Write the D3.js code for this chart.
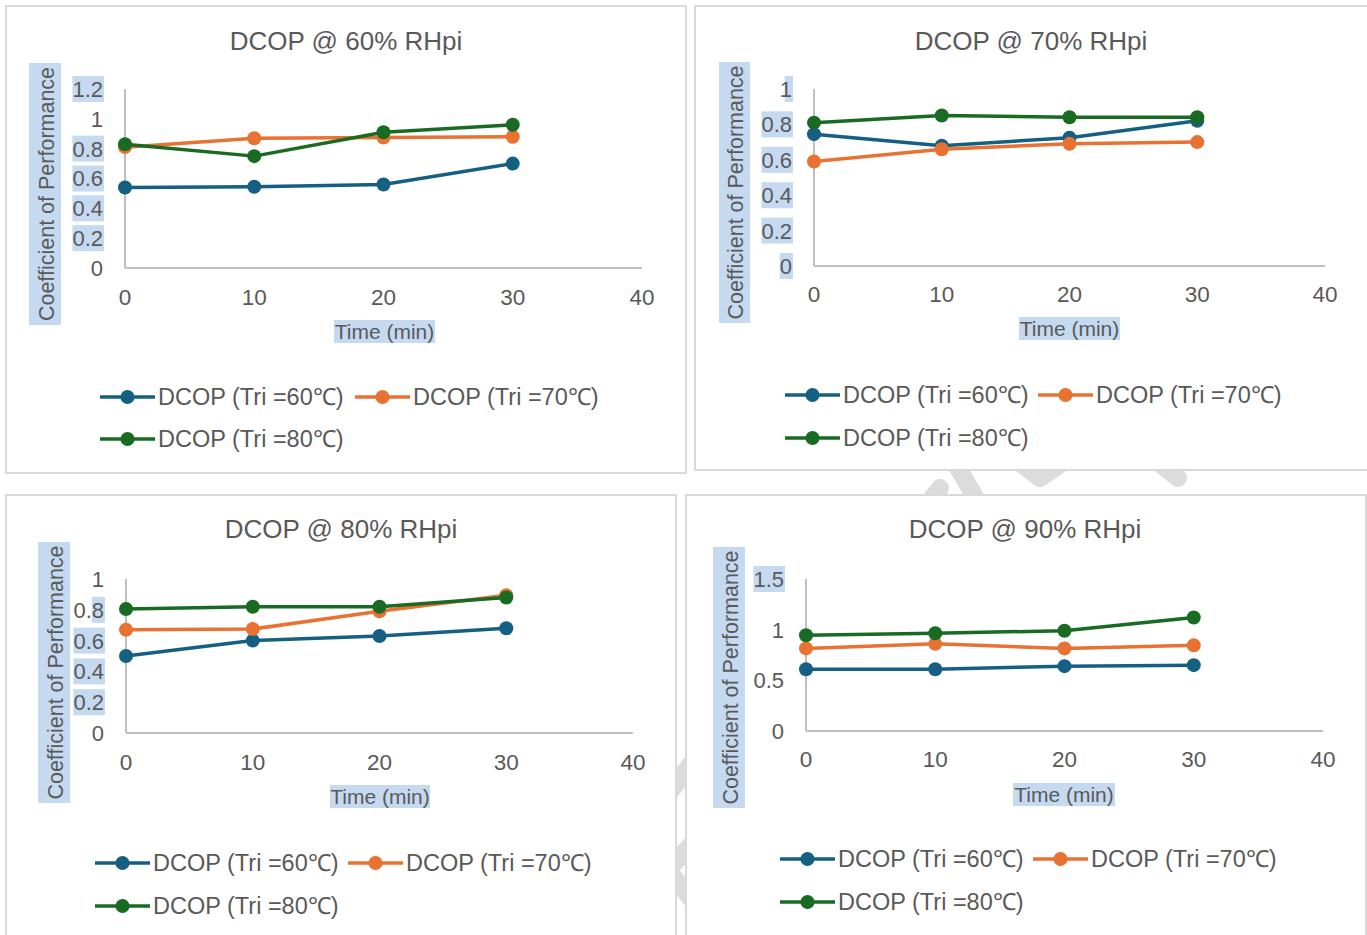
<!DOCTYPE html>
<html>
<head>
<meta charset="utf-8">
<script src="https://cdnjs.cloudflare.com/ajax/libs/d3/7.8.5/d3.min.js"></script>
<style>
  body { margin: 0; background: #fff; }
  text { font-family: 'Liberation Sans', Arial, sans-serif; fill: #595959; }
</style>
</head>
<body>
<script>
// shared axis / legend values
const times = [0, 10, 20, 30];
const xTicks = [0, 10, 20, 30, 40];
const seriesNames = ['DCOP (Tri =60℃)', 'DCOP (Tri =70℃)', 'DCOP (Tri =80℃)'];
const seriesColors = ['#156082', '#e97132', '#196b24'];

// COP
const rh60Tri60 = [0.54, 0.545, 0.56, 0.70];
const rh60Tri70 = [0.81, 0.87, 0.875, 0.88];
const rh60Tri80 = [0.83, 0.75, 0.91, 0.96];

const rh70Tri60 = [0.745, 0.68, 0.725, 0.82];
const rh70Tri70 = [0.59, 0.66, 0.69, 0.70];
const rh70Tri80 = [0.81, 0.85, 0.84, 0.84];

const rh80Tri60 = [0.50, 0.60, 0.63, 0.68];
const rh80Tri70 = [0.67, 0.675, 0.79, 0.895];
const rh80Tri80 = [0.805, 0.82, 0.82, 0.88];

const rh90Tri60 = [0.61, 0.61, 0.64, 0.65];
const rh90Tri70 = [0.815, 0.86, 0.815, 0.845];
const rh90Tri80 = [0.945, 0.965, 0.99, 1.12];

const titles = ['DCOP @ 60% RHpi', 'DCOP @ 70% RHpi', 'DCOP @ 80% RHpi', 'DCOP @ 90% RHpi'];
const yMaxes = [1.2, 1, 1, 1.5];
const ySteps = [0.2, 0.2, 0.2, 0.5];
// which y tick labels carry the blue highlight (value -> share of label width, from the right)
const highlights = [
  [[1.2, 1], [0.8, 1], [0.6, 1], [0.4, 1], [0.2, 1]],
  [[1, 0.6], [0.8, 1], [0.6, 1], [0.4, 1], [0.2, 1], [0, 1]],
  [[0.8, 0.4], [0.6, 1], [0.4, 1], [0.2, 1]],
  [[1.5, 1]]
];

const seriesByPanel = [
  [rh60Tri60, rh60Tri70, rh60Tri80],
  [rh70Tri60, rh70Tri70, rh70Tri80],
  [rh80Tri60, rh80Tri70, rh80Tri80],
  [rh90Tri60, rh90Tri70, rh90Tri80]
];

// layout of the four boxes
const layouts = [
  { box: [6, 6, 680, 467], l: 125, r: 642, t: 89, b: 268, tx: 346, ty: 50, xty: 305, ylx: 103,
    ytBox: [29, 63, 32, 262], xtBox: [334, 320, 101, 23], lx: 100, lx2: 355, ly1: 397, ly2: 439 },
  { box: [695, 6, 680, 464], l: 814, r: 1325, t: 89, b: 266, tx: 1031, ty: 50, xty: 302, ylx: 792,
    ytBox: [719, 62, 31, 261], xtBox: [1019, 317, 101, 23], lx: 785, lx2: 1038, ly1: 395, ly2: 438 },
  { box: [6, 495, 670, 460], l: 126, r: 633, t: 579, b: 733, tx: 341, ty: 538, xty: 770, ylx: 104,
    ytBox: [38, 542, 32, 261], xtBox: [330, 785, 100, 23], lx: 95, lx2: 348, ly1: 863, ly2: 906 },
  { box: [686, 495, 680, 460], l: 806, r: 1323, t: 579, b: 731, tx: 1025, ty: 538, xty: 767, ylx: 784,
    ytBox: [713, 547, 32, 261], xtBox: [1013, 783, 102, 23], lx: 780, lx2: 1033, ly1: 859, ly2: 902 }
];

const hlColor = '#c5d9f1';

let svg = d3.select('body').append('svg')
  .attr('width', 1367)
  .attr('height', 935);

// faint watermark strokes showing between the boxes
let wm = svg.append('g')
  .attr('fill', 'none')
  .attr('stroke', '#dcdcdc')
  .attr('stroke-linecap', 'round')
  .attr('stroke-linejoin', 'round');
[
  [[915, 520], [940, 488]],
  [[930, 420], [975, 497]],
  [[990, 440], [1040, 478], [1095, 440]],
  [[1120, 432], [1178, 478]],
  [[660, 805], [700, 752]],
  [[700, 835], [668, 870], [700, 910]]
].forEach(pts => {
  wm.append('path').attr('d', d3.line()(pts)).attr('stroke-width', 18);
});

layouts.forEach((L, pi) => {
  let g = svg.append('g');

  g.append('rect')
    .attr('x', L.box[0]).attr('y', L.box[1])
    .attr('width', L.box[2]).attr('height', L.box[3])
    .attr('fill', '#fff')
    .attr('stroke', '#d9d9d9')
    .attr('stroke-width', 2);

  let x = d3.scaleLinear().domain([0, 40]).range([L.l, L.r]);
  let y = d3.scaleLinear().domain([0, yMaxes[pi]]).range([L.b, L.t]);
  let yTicks = d3.range(0, yMaxes[pi] + 1e-6, ySteps[pi]).map(v => +v.toFixed(1));
  let fmt = v => String(+v.toFixed(1));

  // title
  g.append('text')
    .attr('x', L.tx).attr('y', L.ty)
    .attr('text-anchor', 'middle')
    .style('font-size', '26px')
    .text(titles[pi]);

  // axis title highlight boxes
  g.append('rect')
    .attr('x', L.ytBox[0]).attr('y', L.ytBox[1])
    .attr('width', L.ytBox[2]).attr('height', L.ytBox[3])
    .attr('fill', hlColor);
  g.append('rect')
    .attr('x', L.xtBox[0]).attr('y', L.xtBox[1])
    .attr('width', L.xtBox[2]).attr('height', L.xtBox[3])
    .attr('fill', hlColor);

  g.append('text')
    .attr('transform', 'translate(' + (L.ytBox[0] + L.ytBox[2] / 2 + 1) + ',' + (L.ytBox[1] + L.ytBox[3] / 2) + ') rotate(-90)')
    .attr('text-anchor', 'middle')
    .attr('dy', '0.35em')
    .style('font-size', '21.5px')
    .text('Coefficient of Performance');

  g.append('text')
    .attr('x', L.xtBox[0] + L.xtBox[2] / 2)
    .attr('y', L.xtBox[1] + L.xtBox[3] / 2)
    .attr('text-anchor', 'middle')
    .attr('dy', '0.36em')
    .style('font-size', '21px')
    .text('Time (min)');

  // y tick labels (with highlight where the picture has it)
  let hlMap = new Map(highlights[pi]);
  let yLab = g.append('g');
  yTicks.forEach(v => {
    let t = yLab.append('text')
      .attr('x', L.ylx)
      .attr('y', y(v))
      .attr('dy', '0.36em')
      .attr('text-anchor', 'end')
      .style('font-size', '22px')
      .text(fmt(v));
    if (hlMap.has(v)) {
      let bb = t.node().getBBox();
      let share = hlMap.get(v);
      yLab.insert('rect', 'text')
        .attr('x', bb.x + bb.width * (1 - share))
        .attr('y', y(v) - 13)
        .attr('width', bb.width * share + 1)
        .attr('height', 26)
        .attr('fill', hlColor);
    }
  });

  // x tick labels
  g.append('g').selectAll('text')
    .data(xTicks)
    .enter().append('text')
    .attr('x', d => x(d))
    .attr('y', L.xty)
    .attr('text-anchor', 'middle')
    .style('font-size', '22.5px')
    .text(d => d);

  // axis lines
  g.append('line')
    .attr('x1', x(0)).attr('x2', x(0))
    .attr('y1', y(yMaxes[pi])).attr('y2', y(0))
    .attr('stroke', '#bfbfbf').attr('stroke-width', 2);
  g.append('line')
    .attr('x1', x(0)).attr('x2', x(40))
    .attr('y1', y(0)).attr('y2', y(0))
    .attr('stroke', '#bfbfbf').attr('stroke-width', 2);

  // series
  let line = d3.line().x((d, i) => x(times[i])).y(d => y(d));
  seriesByPanel[pi].forEach((vals, si) => {
    let sg = g.append('g');
    sg.append('path')
      .attr('d', line(vals))
      .attr('fill', 'none')
      .attr('stroke', seriesColors[si])
      .attr('stroke-width', 3.5)
      .attr('stroke-linejoin', 'round');
    sg.selectAll('circle')
      .data(vals)
      .enter().append('circle')
      .attr('cx', (d, i) => x(times[i]))
      .attr('cy', d => y(d))
      .attr('r', 7)
      .attr('fill', seriesColors[si]);
  });

  // legend
  let legendPos = [[L.lx, L.ly1], [L.lx2, L.ly1], [L.lx, L.ly2]];
  seriesNames.forEach((name, si) => {
    let [lx, ly] = legendPos[si];
    let lg = g.append('g').attr('transform', 'translate(' + lx + ',' + ly + ')');
    lg.append('line')
      .attr('x1', 0).attr('x2', 55)
      .attr('stroke', seriesColors[si])
      .attr('stroke-width', 3.5);
    lg.append('circle')
      .attr('cx', 27.5)
      .attr('r', 7)
      .attr('fill', seriesColors[si]);
    lg.append('text')
      .attr('x', 58)
      .attr('dy', '0.36em')
      .style('font-size', '23.5px')
      .text(name);
  });
});
</script>
</body>
</html>
